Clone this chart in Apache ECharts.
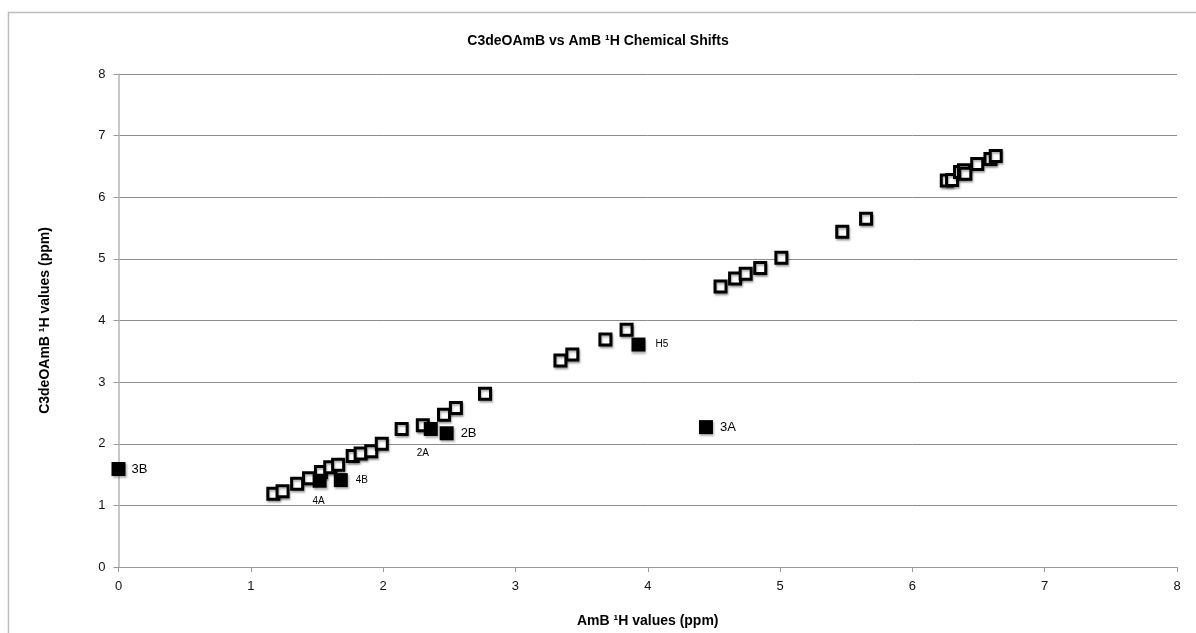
<!DOCTYPE html>
<html>
<head>
<meta charset="utf-8">
<script src="https://cdn.jsdelivr.net/npm/echarts@6/dist/echarts.min.js"></script>
<style>html,body{margin:0;padding:0;background:#fff;}#c{width:1196px;height:633px;}</style>
</head>
<body>
<div id="c"></div>
<script>
// AmB 1H shifts (x) vs C3deOAmB 1H shifts (y)
const openX = [1.17, 1.24, 1.35, 1.44, 1.53, 1.60, 1.66, 1.77, 1.83, 1.91, 1.99, 2.14, 2.30, 2.46, 2.55, 2.77,
               3.34, 3.43, 3.68, 3.84, 4.55, 4.66, 4.74, 4.85, 5.01, 5.47, 5.65,
               6.26, 6.30, 6.36, 6.39, 6.40, 6.49, 6.59, 6.63];
const openY = [1.19, 1.23, 1.35, 1.44, 1.54, 1.62, 1.66, 1.80, 1.84, 1.88, 2.00, 2.24, 2.30, 2.47, 2.58, 2.81,
               3.35, 3.45, 3.69, 3.85, 4.55, 4.68, 4.76, 4.85, 5.02, 5.44, 5.65,
               6.27, 6.28, 6.41, 6.44, 6.38, 6.54, 6.62, 6.67];
const filledX = [0.00, 1.52, 1.68, 2.36, 2.48, 3.93, 4.44];
const filledY = [1.59, 1.40, 1.41, 2.24, 2.17, 3.61, 2.27];
const filledLabels = ['3B', '4A', '4B', '2A', '2B', 'H5', '3A'];
const xTicks = [0, 1, 2, 3, 4, 5, 6, 7, 8];
const yTicks = [0, 1, 2, 3, 4, 5, 6, 7, 8];

const FONT = '"Liberation Sans", Arial, sans-serif';
const labelStyle = {
  '3B': {position: 'right', distance: 6, fontSize: 13},
  '2B': {position: 'right', distance: 7, fontSize: 13},
  '3A': {position: 'right', distance: 7, fontSize: 13},
  '4B': {position: 'right', distance: 8, fontSize: 10},
  'H5': {position: 'right', distance: 10, fontSize: 10},
  '4A': {position: 'bottom', distance: 9, fontSize: 10, offset: [-1, 0]},
  '2A': {position: 'bottom', distance: 12, fontSize: 10, offset: [-8, 0]}
};

const chart = echarts.init(document.getElementById('c'), null, {renderer: 'canvas'});
const shadow = {shadowColor: 'rgba(0,0,0,0.3)', shadowBlur: 2, shadowOffsetX: 1, shadowOffsetY: 2};

chart.setOption({
  animation: false,
  backgroundColor: '#fff',
  title: {
    text: 'C3deOAmB vs AmB \u00B9H Chemical Shifts',
    left: 'center', top: 29,
    textStyle: {fontFamily: FONT, fontSize: 14, fontWeight: 'bold', color: '#000'}
  },
  graphic: [{
    type: 'rect', silent: true, z: -1,
    shape: {x: 8.5, y: 12.5, width: 1300, height: 800},
    style: {fill: 'none', stroke: '#bdbdbd', lineWidth: 1.5}
  }],
  grid: {left: 118.5, right: 19, top: 74, bottom: 66, containLabel: false},
  xAxis: {
    type: 'value', min: xTicks[0], max: xTicks[xTicks.length - 1], interval: 1,
    name: 'AmB \u00B9H values (ppm)', nameLocation: 'middle', nameGap: 47,
    nameTextStyle: {fontFamily: FONT, fontSize: 14, fontWeight: 'bold', color: '#000'},
    axisLine: {show: true, lineStyle: {color: '#9a9a9a', width: 1}},
    axisTick: {show: true, length: 5, lineStyle: {color: '#9a9a9a'}},
    axisLabel: {fontFamily: FONT, fontSize: 13, color: '#111', margin: 13},
    splitLine: {show: false}
  },
  yAxis: {
    type: 'value', min: yTicks[0], max: yTicks[yTicks.length - 1], interval: 1,
    name: 'C3deOAmB \u00B9H values (ppm)', nameLocation: 'middle', nameGap: 66, nameRotate: 90,
    nameTextStyle: {fontFamily: FONT, fontSize: 14, fontWeight: 'bold', color: '#000'},
    axisLine: {show: true, lineStyle: {color: '#b5b5b5', width: 1.5}},
    axisTick: {show: true, length: 5, lineStyle: {color: '#9a9a9a'}},
    axisLabel: {fontFamily: FONT, fontSize: 13, color: '#111', margin: 13},
    splitLine: {show: true, lineStyle: {color: '#8c8c8c', width: 1}}
  },
  series: [
    {
      type: 'scatter', symbol: 'rect', symbolSize: 11,
      data: openX.map((x, i) => [x, openY[i]]),
      itemStyle: Object.assign({color: '#fff', borderColor: '#000', borderWidth: 3, opacity: 1}, shadow),
      z: 2
    },
    {
      type: 'scatter', symbol: 'rect', symbolSize: 14,
      data: filledX.map((x, i) => {
        const s = labelStyle[filledLabels[i]];
        return {
          value: [x, filledY[i]],
          label: Object.assign({show: true, formatter: filledLabels[i], color: '#000', fontFamily: FONT}, s)
        };
      }),
      itemStyle: Object.assign({color: '#000', opacity: 1}, shadow),
      z: 3
    }
  ]
});
</script>
</body>
</html>
